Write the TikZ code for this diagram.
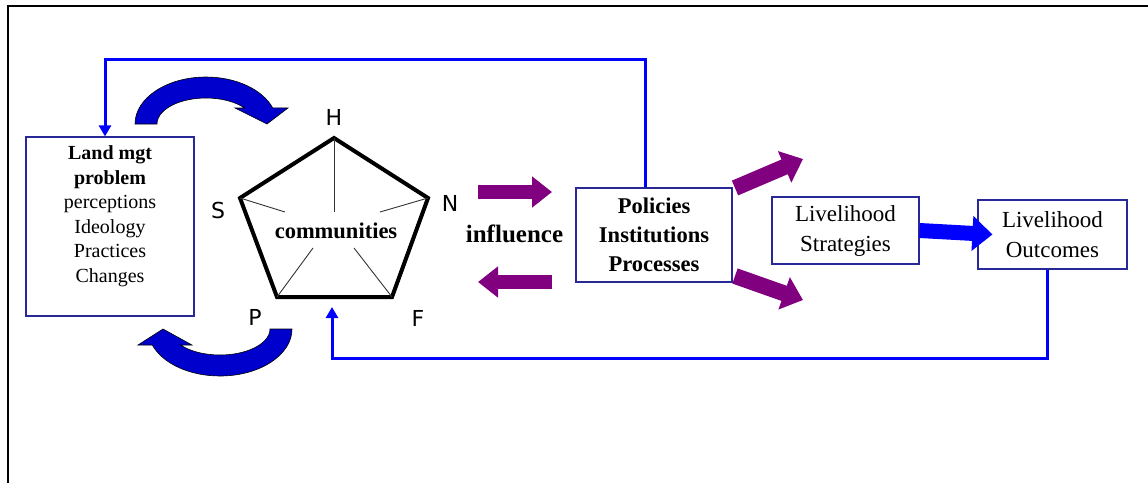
\documentclass[tikz,border=0pt]{standalone}
\usepackage{fontspec}
\setmainfont{Liberation Serif}
\newfontfamily\vertexfont{DejaVu Sans}
\usetikzlibrary{arrows.meta}
\definecolor{fbblue}{RGB}{0,0,255}
\definecolor{boxblue}{RGB}{40,40,150}
\definecolor{arrowpurple}{RGB}{128,0,128}
\definecolor{curveblue}{RGB}{0,0,205}

\begin{document}
\begin{tikzpicture}[x=1pt, y=-1pt,
	box/.style={draw=boxblue, line width=1.2pt, fill=white, inner sep=0pt, align=center},
	fb/.style={fbblue, line width=3pt, -{Triangle[length=11pt,width=12pt]}},
	thickarrow/.style={line width=14pt, -{Triangle[length=20pt,width=30pt]}},
	vertex/.style={font=\vertexfont\fontsize{22}{22}\selectfont, inner sep=0pt},
	spoke/.style={line width=0.9pt, black!80},
	curved/.style={fill=curveblue, draw=black, line width=0.6pt}]
	\useasboundingbox (0,0) rectangle (1148,483);
	\draw[line width=2pt] (8,483) -- (8,6) -- (1148,6);

	\node[box, minimum width=168pt, minimum height=179pt, font=\fontsize{20}{24.5}\selectfont] (landbox) at (110,226.5) {\textbf{Land mgt}\\ \textbf{problem}\\ perceptions\\ Ideology\\ Practices\\ Changes\\ ~};
	\node[box, minimum width=156pt, minimum height=94pt, font=\bfseries\fontsize{22.5}{29}\selectfont] (policies) at (654,235) {Policies\\ Institutions\\ Processes};
	\node[box, minimum width=147pt, minimum height=67pt, font=\fontsize{23}{30}\selectfont] (strategies) at (845.5,230.5) {Livelihood\\ Strategies};
	\node[box, minimum width=149pt, minimum height=69pt, font=\fontsize{23}{30}\selectfont] (outcomes) at (1052.5,234.5) {Livelihood\\ Outcomes};

	\coordinate (vH) at (334,138);
	\coordinate (vN) at (428,198);
	\coordinate (vF) at (392,297);
	\coordinate (vP) at (277,297);
	\coordinate (vS) at (240,198);
	\draw[line width=4pt, line join=miter] (vH) -- (vN) -- (vF) -- (vP) -- (vS) -- cycle;
	\draw[spoke] (vH) -- (334,212);
	\draw[spoke] (vS) -- (285,212);
	\draw[spoke] (vN) -- (380,212);
	\draw[spoke] (vP) -- (313,248);
	\draw[spoke] (vF) -- (354,248);
	\node[vertex] (lblH) at (334,117) {H};
	\node[vertex] (lblS) at (218,210) {S};
	\node[vertex] (lblN) at (450,203) {N};
	\node[vertex] (lblP) at (255,317) {P};
	\node[vertex] (lblF) at (418,318) {F};
	\node[font=\bfseries\fontsize{22.5}{27}\selectfont, inner sep=0pt] (communities) at (336,231) {communities};
	\node[font=\bfseries\fontsize{25}{30}\selectfont, inner sep=0pt] (influence) at (514.5,234) {influence};

	\coordinate (inTail) at (478,192);
	\coordinate (inTip) at (552,192);
	\coordinate (outTail) at (552,282);
	\coordinate (outTip) at (478,282);
	\coordinate (upTail) at (735,188);
	\coordinate (upTip) at (803,159);
	\coordinate (downTail) at (735,276);
	\coordinate (downTip) at (803,300);
	\draw[thickarrow, arrowpurple] (inTail) -- (inTip);
	\draw[thickarrow, arrowpurple] (outTail) -- (outTip);
	\draw[thickarrow, arrowpurple, line width=16pt, -{Triangle[length=20pt,width=33pt]}] (upTail) -- (upTip);
	\draw[thickarrow, arrowpurple, line width=16pt, -{Triangle[length=20pt,width=33pt]}] (downTail) -- (downTip);
	\draw[thickarrow, fbblue, line width=15pt, -{Triangle[length=20pt,width=34pt]}] (strategies.east) -- ([xshift=15pt]outcomes.west);

	\coordinate (pentBase) at (332,307);
	\draw[fb] ([xshift=-9pt]policies.north) -- ++(0,-128) -| ([xshift=-5pt]landbox.north);
	\draw[fb] ([xshift=-5.5pt]outcomes.south) -- ++(0,89) -| (pentBase);

	\filldraw[curved] (135,124) arc[start angle=180, end angle=340, x radius=71, y radius=47] -- (288,108) -- (267,124) -- (235,108) -- (244.6,108) arc[start angle=322, end angle=180, x radius=49, y radius=26] -- cycle;
	\filldraw[curved] (292,329) arc[start angle=0, end angle=160.1, x radius=72, y radius=47] -- (138,345) -- (163,329) -- (192,345) -- (180.6,345) arc[start angle=142, end angle=0, x radius=50, y radius=26] -- cycle;
\end{tikzpicture}
\end{document}
